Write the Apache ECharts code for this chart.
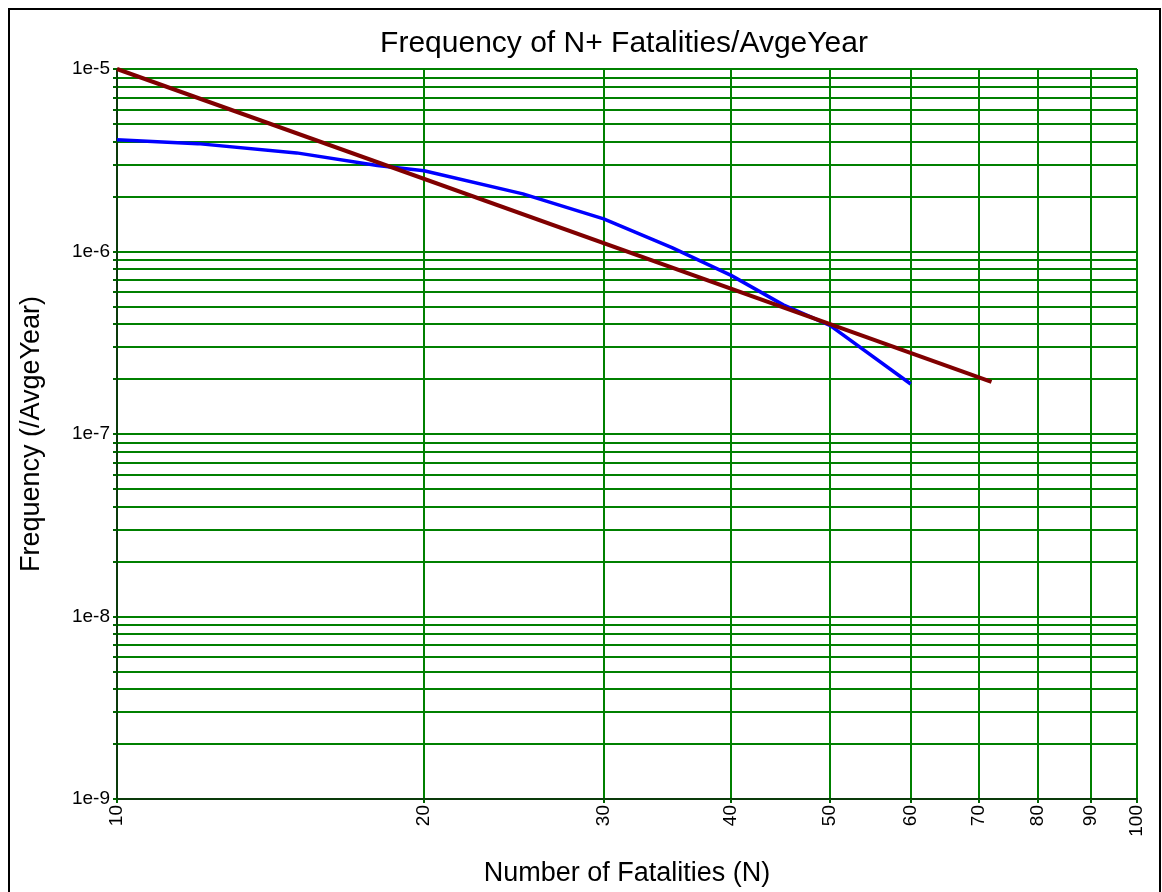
<!DOCTYPE html>
<html>
<head>
<meta charset="utf-8">
<script src="https://cdn.jsdelivr.net/npm/echarts@6/dist/echarts.min.js"></script>
<style>
  html, body { margin: 0; padding: 0; background: #fff; }
  #chart { width: 1162px; height: 892px; }
</style>
</head>
<body>
<div id="chart"></div>
<script>
// ---- data ----
const blueN    = [10,     12,     15,      18,      20,      25,      30,      35,      40,     45,     50,      60];
const blueFreq = [4.1e-6, 3.9e-6, 3.47e-6, 2.96e-6, 2.77e-6, 2.07e-6, 1.51e-6, 1.05e-6, 7.4e-7, 5.1e-7, 3.94e-7, 1.88e-7];
const redN     = [10,   72];
const redFreq  = [1e-5, 1.93e-7];
const xTickValues = [10, 20, 30, 40, 50, 60, 70, 80, 90, 100];
const yDecades = [1e-9, 1e-8, 1e-7, 1e-6, 1e-5];
const yMinorMult = [1, 2, 3, 4, 5, 6, 7, 8, 9];

const yTickValues = [];
for (let i = 0; i < yDecades.length - 1; i++) {
  for (const m of yMinorMult) yTickValues.push(m * yDecades[i]);
}
yTickValues.push(yDecades[yDecades.length - 1]);

const blueData = blueN.map((n, i) => [n, blueFreq[i]]);
const redData = redN.map((n, i) => [n, redFreq[i]]);

const chart = echarts.init(document.getElementById('chart'));
const font = '"Liberation Sans", Arial, sans-serif';
chart.setOption({
  animation: false,
  backgroundColor: '#fff',
  title: {
    text: 'Frequency of N+ Fatalities/AvgeYear',
    left: 619, top: 24, textAlign: 'center',
    textStyle: { fontFamily: font, fontSize: 30, fontWeight: 'normal', color: '#000' }
  },
  graphic: [{
    type: 'rect', silent: true, z: -1,
    shape: { x: 9, y: 9, width: 1151, height: 900 },
    style: { fill: 'none', stroke: '#000', lineWidth: 2 }
  }],
  grid: { left: 117, right: 25, top: 69, bottom: 92 },
  xAxis: {
    type: 'log', logBase: 10, min: 10, max: 100,
    name: 'Number of Fatalities (N)', nameLocation: 'middle', nameGap: 61,
    nameTextStyle: { fontFamily: font, fontSize: 27, color: '#000' },
    axisLine: { show: true, lineStyle: { color: '#0a3a0a', width: 2 } },
    axisTick: { show: true, customValues: xTickValues, length: 4, lineStyle: { color: '#006400', width: 2 } },
    axisLabel: {
      customValues: xTickValues, rotate: 90, margin: 6,
      fontFamily: font, fontSize: 19, color: '#000',
      formatter: v => String(Math.round(v))
    },
    splitLine: { show: true, lineStyle: { color: '#008000', width: 2 } },
    minorSplitLine: { show: false }
  },
  yAxis: {
    type: 'log', logBase: 10, min: 1e-9, max: 1e-5,
    name: 'Frequency (/AvgeYear)', nameLocation: 'middle', nameGap: 72,
    nameTextStyle: { fontFamily: font, fontSize: 27, color: '#000' },
    axisLine: { show: true, lineStyle: { color: '#0a3a0a', width: 2 } },
    axisTick: { show: true, customValues: yTickValues, length: 4, lineStyle: { color: '#006400', width: 2 } },
    axisLabel: {
      customValues: yDecades, margin: 7,
      fontFamily: font, fontSize: 19, color: '#000',
      formatter: v => '1e' + Math.round(Math.log10(v))
    },
    splitLine: { show: true, lineStyle: { color: '#008000', width: 2 } }
  },
  series: [
    {
      type: 'line', data: blueData, showSymbol: false, symbol: 'none',
      lineStyle: { color: '#0000ff', width: 3.5 }, z: 3
    },
    {
      type: 'line', data: redData, showSymbol: false, symbol: 'none',
      lineStyle: { color: '#800000', width: 4 }, z: 4
    }
  ]
});
</script>
</body>
</html>
